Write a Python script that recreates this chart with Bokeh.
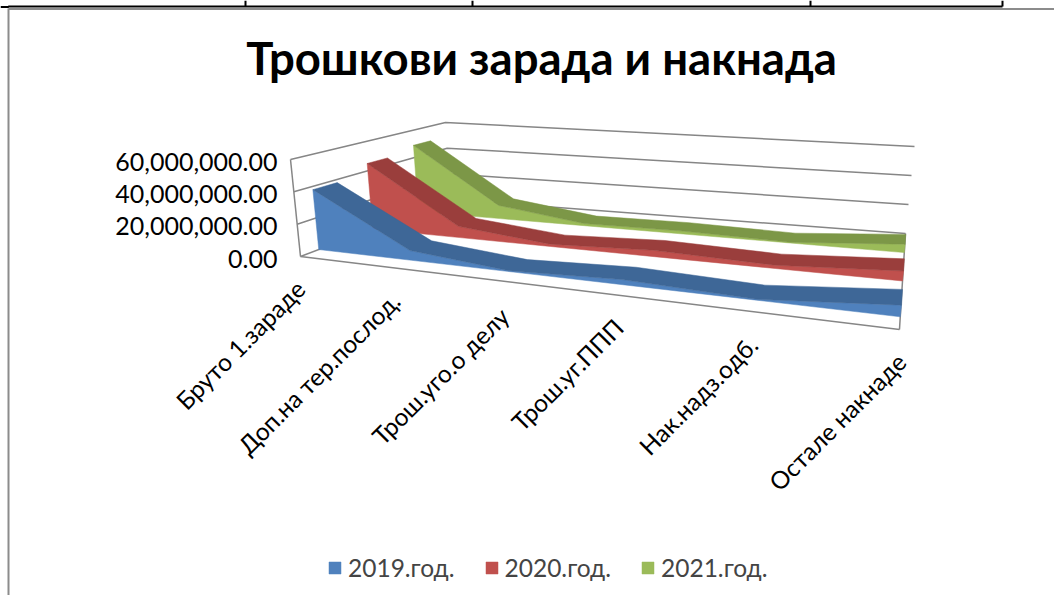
import numpy as np
from bokeh.plotting import figure
from bokeh.embed import file_html
from bokeh.resources import INLINE
from bokeh.core.properties import value
from bokeh.models import Legend, LegendItem

title_text = "Трошкови зарада и накнада"
categories = ["Бруто 1.зараде", "Доп.на тер.послод.", "Трош.уго.о делу", "Трош.уг.ППП", "Нак.надз.одб.", "Остале накнаде"]
series_names = ["2019.год.", "2020.год.", "2021.год."]
values_2019 = [38000000, 6000000, 500000, 3000000, 500000, 6500000]
values_2020 = [45000000, 7500000, 1500000, 4000000, 2000000, 6000000]
values_2021 = [49000000, 9500000, 1500000, 2000000, 500000, 5500000]
axis_ticks = [0, 20000000, 40000000, 60000000]
front_colors = ["#4F81BD", "#C0504D", "#9BBB59"]
top_colors = ["#3E6797", "#9A3E3C", "#7C9747"]
table_ticks_x = [245, 472, 810, 1002]

FONT = "Lato"
GRID = "#868686"
VMAX = 60000000
floor_q = [(300, 256), (899, 329), (905, 233), (450, 199)]   # front-left, front-right, back-right, back-left
top_q = [(290, 159), (911, 219), (914, 146), (445, 122)]
depth_front = [0.095, 0.413, 0.735]
depth_back = [0.228, 0.546, 0.868]
# placement of the categories along the (perspective) category axis
category_pos = [0.0, 0.21, 0.405, 0.605, 0.81, 1.0]
label_dx = [-3, 2, 9, 7, 7, -1]
label_dy = [0, 1, 4, 1, 2, 0]


def homography(q):
    src = [(0, 0), (1, 0), (1, 1), (0, 1)]
    A, b = [], []
    for (u, v), (x, y) in zip(src, q):
        A.append([u, v, 1, 0, 0, 0, -u * x, -v * x]); b.append(x)
        A.append([0, 0, 0, u, v, 1, -u * y, -v * y]); b.append(y)
    h = np.linalg.solve(np.array(A, float), np.array(b, float))
    return np.append(h, 1).reshape(3, 3)


HF, HT = homography(floor_q), homography(top_q)


def apply(H, u, d):
    w = H @ np.array([u, d, 1.0])
    return w[:2] / w[2]


def project(u, d, val):
    a, b = apply(HF, u, d), apply(HT, u, d)
    return a + (b - a) * (val / VMAX)


p = figure(width=1054, height=595, x_range=(0, 1054), y_range=(595, 0),
           toolbar_location=None, output_backend="svg", min_border=0,
           outline_line_color=None, background_fill_color="white")
p.axis.visible = False
p.grid.visible = False


def seg(a, b, color=GRID, w=1.5):
    p.line([a[0], b[0]], [a[1], b[1]], line_color=color, line_width=w)


# sheet frame and table lines above the chart
p.line([0, 8, 8, 1002], [6.5, 6.5, 6, 6], line_color="black", line_width=2)
for tx in table_ticks_x:
    seg((tx, 0), (tx, 6), "black", 2)
seg((8, 8.5), (1054, 8.5), "#8c8c8c", 2)
seg((8, 8), (8, 595), "#8c8c8c", 2)

# walls
for t in axis_ticks[1:]:
    a, b, c = project(0, 0, t), project(0, 1, t), project(1, 1, t)
    p.line([a[0], b[0], c[0]], [a[1], b[1], c[1]], line_color=GRID, line_width=1.5)
seg(project(0, 0, 0), project(0, 0, VMAX))
seg(project(0, 0, 0), project(0, 1, 0))
seg(project(0, 1, 0), project(1, 1, 0))
seg(project(0, 0, 0), project(1, 0, 0))
seg(project(1, 0, 0), project(1, 1, 0))

# areas, back to front
all_vals = [values_2019, values_2020, values_2021]
legend_items = [None] * 3
for s in [2, 1, 0]:
    vals = all_vals[s]
    f = [project(u, depth_front[s], v) for u, v in zip(category_pos, vals)]
    b = [project(u, depth_back[s], v) for u, v in zip(category_pos, vals)]
    f0 = [project(u, depth_front[s], 0) for u in category_pos]
    face = p.patch([q[0] for q in f + f0[::-1]], [q[1] for q in f + f0[::-1]],
                   fill_color=front_colors[s], line_color=front_colors[s], line_width=0.5)
    p.patch([q[0] for q in f + b[::-1]], [q[1] for q in f + b[::-1]],
            fill_color=top_colors[s], line_color=top_colors[s], line_width=0.5)
    legend_items[s] = LegendItem(label=series_names[s], renderers=[face])

# value labels
for t in axis_ticks:
    a = project(0, 0, t)
    p.text([277], [a[1] + 2], text=[f"{t:,.2f}"], text_font=value(FONT), text_font_size="25px",
           text_align="right", text_baseline="middle", text_color="black")

# category labels
for i, (u, c) in enumerate(zip([k / 5 for k in range(6)], categories)):
    a = project(u, 0, 0)
    p.text([a[0] + 3 + label_dx[i]], [a[1] + 28 + label_dy[i]], text=[c], angle=np.pi / 4, text_font=value(FONT),
           text_font_size="24.5px", text_align="right", text_baseline="middle", text_color="black")

p.text([541], [57], text=[title_text], text_font=value(FONT), text_font_size="45.5px",
       text_font_style="bold", text_align="center", text_baseline="middle", text_color="black")

legend = Legend(items=legend_items, orientation="horizontal", location=(327, 13), glyph_width=15, glyph_height=15,
                label_text_font=FONT, label_text_font_size="24.5px", label_standoff=6, spacing=29,
                border_line_color=None, background_fill_alpha=0, padding=0, margin=0)
p.add_layout(legend, "center")

open("out.html", "w").write(file_html(p, INLINE))
